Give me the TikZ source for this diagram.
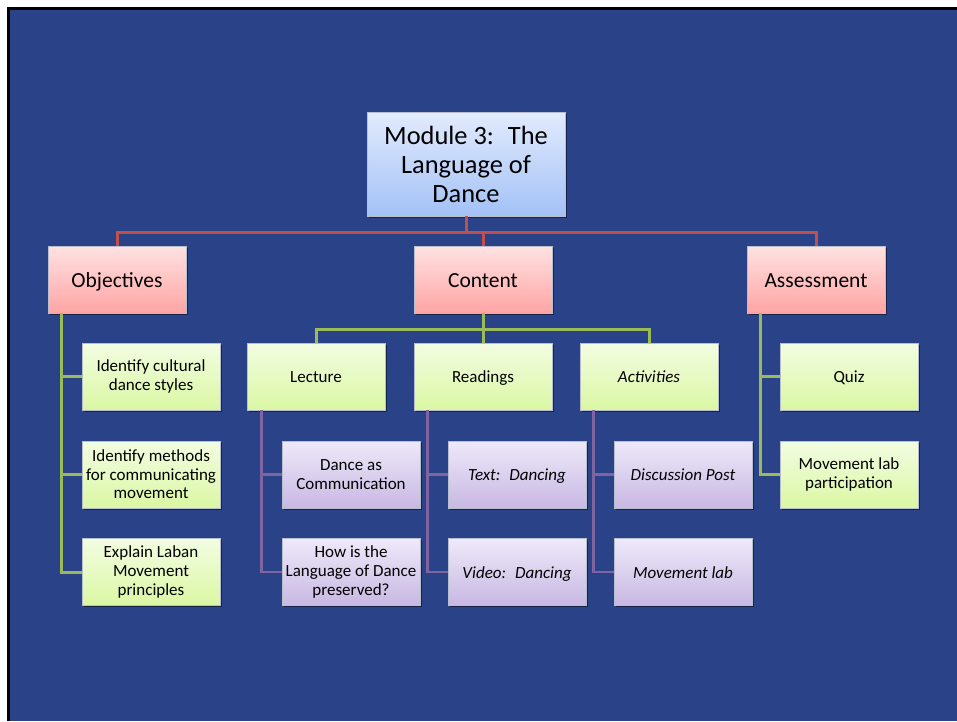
\documentclass[tikz,border=0pt]{standalone}
\usepackage{fontspec}
\setmainfont{Carlito}
\usetikzlibrary{shadows}
\definecolor{bg}{RGB}{42,67,136}
\definecolor{bluetop}{RGB}{226,235,253}
\definecolor{bluebot}{RGB}{163,193,246}
\definecolor{redtop}{RGB}{255,226,226}
\definecolor{redbot}{RGB}{255,164,164}
\definecolor{greentop}{RGB}{243,253,226}
\definecolor{greenbot}{RGB}{218,247,163}
\definecolor{purptop}{RGB}{238,233,249}
\definecolor{purpbot}{RGB}{200,184,227}
\definecolor{boxedge}{RGB}{185,190,205}
\definecolor{redln}{RGB}{192,80,77}
\definecolor{greenln}{RGB}{155,187,89}
\definecolor{purpln}{RGB}{128,100,162}
\begin{document}
\begin{tikzpicture}[x=1pt,y=-1pt,
 box/.style={rectangle, minimum width=138pt, minimum height=67pt, inner sep=1pt,
   align=center, draw=boxedge, line width=0.6pt, text=black,
   drop shadow={opacity=0.45, shadow xshift=1.5pt, shadow yshift=-1.5pt, fill=black}},
 oneline/.style={text height=12.6pt, text depth=0pt},
 topbox/.style={box, minimum width=198pt, minimum height=104pt,
   top color=bluetop, bottom color=bluebot, font=\fontsize{26.4}{29}\selectfont},
 redbox/.style={box, text height=16pt, text depth=0pt, top color=redtop, bottom color=redbot, font=\fontsize{21.5}{24}\selectfont},
 greenbox/.style={box, top color=greentop, bottom color=greenbot, font=\fontsize{17}{18.6}\selectfont},
 purplebox/.style={box, top color=purptop, bottom color=purpbot, font=\fontsize{17}{18.6}\selectfont},
 redline/.style={draw=redln, line width=3pt},
 greenline/.style={draw=greenln, line width=3pt},
 purpline/.style={draw=purpln, line width=2.6pt}
]
\useasboundingbox (0,0) rectangle (957,721);
\fill[white] (0,0) rectangle (957,721);
\fill[black] (7,7) rectangle (957,721);
\fill[bg] (10,10) rectangle (957,721);

\coordinate (bus1) at (0,232);
\coordinate (bus2) at (0,329);

\node[topbox] (top) at (466,164) {Module 3:~ The\\Language of\\Dance};
\node[redbox] (obj) at (117,279.5) {Objectives};
\node[redbox] (con) at (483,279.5) {Content};
\node[redbox] (ass) at (816,279.5) {Assessment};

\node[greenbox] (o1) at (151,376.5) {Identify cultural\\dance styles};
\node[greenbox] (o2) at (151,474.5) {Identify methods\\for communicating\\movement};
\node[greenbox] (o3) at (151,572) {Explain Laban\\Movement\\principles};
\node[greenbox, oneline] (lec) at (316,376.5) {Lecture};
\node[greenbox, oneline] (rea) at (483,376.5) {Readings};
\node[greenbox, oneline] (act) at (649,376.5) {\textit{Activities}};
\node[greenbox, oneline] (quiz) at (849,376.5) {Quiz};
\node[greenbox] (mlp) at (849,474.5) {Movement lab\\participation};

\node[purplebox] (l1) at (351,474.5) {Dance as\\Communication};
\node[purplebox] (l2) at (351,572) {How is the\\Language of Dance\\preserved?};
\node[purplebox, oneline] (r1) at (517,474.5) {\textit{Text:~ Dancing}};
\node[purplebox, oneline] (r2) at (517,572) {\textit{Video:~ Dancing}};
\node[purplebox, oneline] (a1) at (683,474.5) {\textit{Discussion Post}};
\node[purplebox, oneline] (a2) at (683,572) {\textit{Movement lab}};

\foreach \n in {obj,con,ass}
  \draw[redline] (top.south) |- (bus1 -| \n.north) -- (\n.north);
\foreach \n in {lec,rea,act}
  \draw[greenline] (con.south) |- (bus2 -| \n.north) -- (\n.north);
\foreach \n in {o1,o2,o3}
  \draw[greenline] ([xshift=14pt]obj.south west) |- (\n.west);
\foreach \n in {quiz,mlp}
  \draw[greenline] ([xshift=14pt]ass.south west) |- (\n.west);
\foreach \n in {l1,l2}
  \draw[purpline] ([xshift=15pt]lec.south west) |- (\n.west);
\foreach \n in {r1,r2}
  \draw[purpline] ([xshift=14pt]rea.south west) |- (\n.west);
\foreach \n in {a1,a2}
  \draw[purpline] ([xshift=14pt]act.south west) |- (\n.west);
\end{tikzpicture}
\end{document}
